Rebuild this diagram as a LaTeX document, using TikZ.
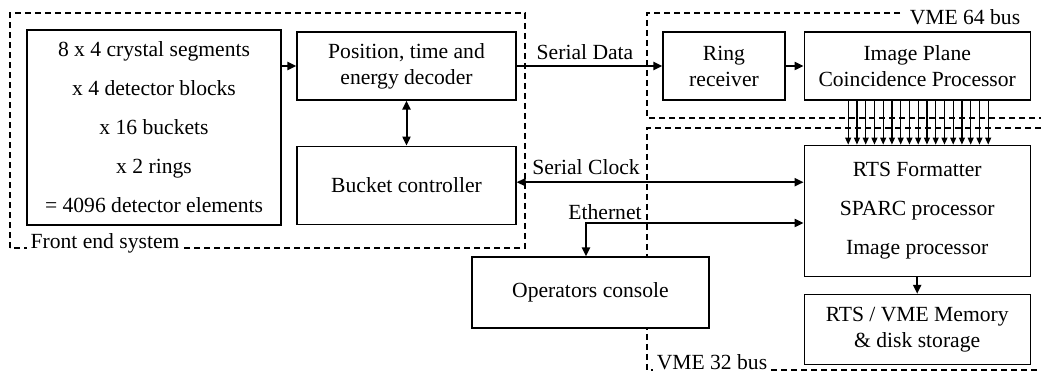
\documentclass[tikz,border=0pt]{standalone}
\usepackage{fontspec}
\setmainfont{Liberation Serif}
\usetikzlibrary{arrows.meta,positioning}

\begin{document}
\begin{tikzpicture}[
  x=0.5pt, y=-0.5pt,
  font=\fontsize{10.8pt}{13pt}\selectfont,
  >={Triangle[length=4.5pt,width=4pt]},
  unit/.style={
    draw,
    line width=0.6pt,
    fill=white,
    align=center,
    inner sep=2pt
  },
  flow/.style={->, line width=1pt},
  twoway/.style={<->, line width=1pt},
  busline/.style={->, line width=0.6pt, >={Triangle[length=3.5pt,width=3pt]}},
  region/.style={dash pattern=on 3pt off 2pt, line width=0.6pt},
  regionlabel/.style={fill=white, inner sep=2pt}
]
\useasboundingbox (0,0) rectangle (1041,373);

\draw[region] (10,248) rectangle (525,13);
\draw[region] (900,13) -- (647,13) -- (647,118) -- (1041,118);
\draw[region] (1041,128) -- (647,128) -- (647,370) -- (1041,370);

\node[unit, minimum width=127pt, minimum height=97.5pt] (det) at (154,127.5)
  {8 x 4 crystal segments\\[6.5pt]x 4 detector blocks\\[6.5pt]x 16 buckets\\[6.5pt]x 2 rings\\[6.5pt]= 4096 detector elements};
\node[unit, minimum width=109.5pt, minimum height=34pt] (dec) at (406.5,66) {Position, time and\\energy decoder};
\node[unit, minimum width=109.5pt, minimum height=39pt, below=22.5pt of dec] (bctl) {Bucket controller};
\node[unit, minimum width=61pt, minimum height=34pt] (ring) at (724,66) {Ring\\receiver};
\node[unit, minimum width=113pt, minimum height=34pt, right=9pt of ring] (ipcp) {Image Plane\\Coincidence Processor};
\node[unit, minimum width=113pt, minimum height=65.5pt, below=22pt of ipcp] (rts)
  {RTS Formatter\\[6.5pt]SPARC processor\\[6.5pt]Image processor};
\node[unit, minimum width=113pt, minimum height=35pt, below=8.5pt of rts] (mem) {RTS / VME Memory\\\& disk storage};
\node[unit, minimum width=118.5pt, minimum height=35.5pt] (ops) at (590.5,292.5) {Operators console};

\node[regionlabel] (felbl) at (105,243) {Front end system};
\node[regionlabel] (vme64lbl) at (965,17) {VME 64 bus};
\node[regionlabel] (vme32lbl) at (712,362) {VME 32 bus};

\node (datalbl) at (585,52) {Serial Data};
\node (clklbl) at (586,167) {Serial Clock};
\node (ethlbl) at (605,212) {Ethernet};

\draw[flow] (det.east |- dec) -- (dec);
\draw[twoway] (dec) -- (bctl);
\draw[flow] (dec) -- (ring);
\draw[flow] (ring) -- (ipcp);
\draw[twoway] ([yshift=1.5pt]bctl.east) -- ([yshift=1.5pt]bctl.east -| rts.west);
\coordinate (ethknee) at (586,223);
\draw[twoway] (ops.north -| ethknee) |- (rts.west |- ethknee);
\foreach \i in {0,...,16}
  \draw[busline] ([xshift=-34.5pt+\i*4.375pt]ipcp.south) -- ([xshift=-34.5pt+\i*4.375pt]ipcp.south |- rts.north);
\draw[flow] (rts) -- (mem);

\end{tikzpicture}
\end{document}
